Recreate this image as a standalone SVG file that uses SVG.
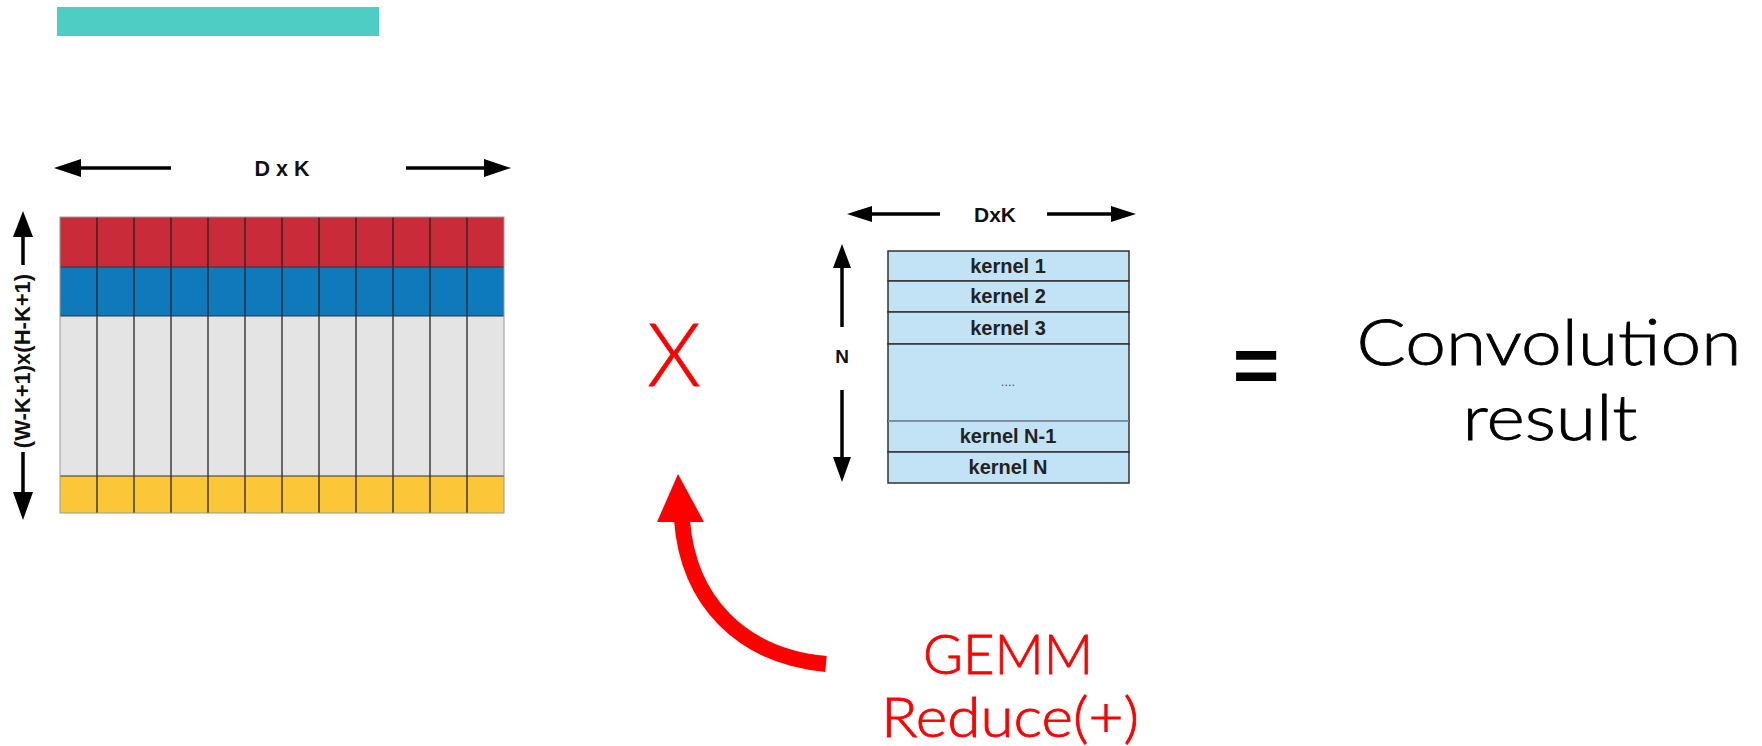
<svg xmlns="http://www.w3.org/2000/svg" width="1762" height="746" viewBox="0 0 1762 746">
  <defs>
    <style>
      .lbl { font-family: "Liberation Sans", Arial, sans-serif; font-weight: bold; fill: #111; }
      .big { font-family: "Lato", "Noto Sans", sans-serif; font-weight: 300; stroke-width: 0.8; }
      .col { stroke: #222; stroke-width: 1.5; stroke-opacity: 0.85; }
      .arr { stroke: #000; stroke-width: 3.5; fill: none; }
      .head { fill: #000; }
      .krow { fill: #c2e3f5; stroke: #333; stroke-width: 1.5; }
      .ktxt { font-family: "Liberation Sans", Arial, sans-serif; font-weight: bold; font-size: 20px; fill: #222; text-anchor: middle; }
    </style>
  </defs>
  <rect width="1762" height="746" fill="#ffffff"/>

  <g id="title-bar">
    <rect x="57" y="7" width="322" height="29" fill="#4ecdc4"/>
  </g>

  <g id="input-matrix">
    <rect x="60" y="217" width="444" height="50" fill="#c92b38"/>
    <rect x="60" y="267" width="444" height="49" fill="#0e7abb"/>
    <rect x="60" y="316" width="444" height="160" fill="#e4e4e4"/>
    <rect x="60" y="476" width="444" height="37" fill="#fbc638"/>
    <g class="col">
      <line x1="97" y1="217" x2="97" y2="513"/>
      <line x1="134" y1="217" x2="134" y2="513"/>
      <line x1="171" y1="217" x2="171" y2="513"/>
      <line x1="208" y1="217" x2="208" y2="513"/>
      <line x1="245" y1="217" x2="245" y2="513"/>
      <line x1="282" y1="217" x2="282" y2="513"/>
      <line x1="319" y1="217" x2="319" y2="513"/>
      <line x1="356" y1="217" x2="356" y2="513"/>
      <line x1="393" y1="217" x2="393" y2="513"/>
      <line x1="430" y1="217" x2="430" y2="513"/>
      <line x1="467" y1="217" x2="467" y2="513"/>
    </g>
    <line x1="60" y1="267" x2="504" y2="267" stroke="#333" stroke-width="1"/>
    <line x1="60" y1="316" x2="504" y2="316" stroke="#333" stroke-width="1"/>
    <line x1="60" y1="476" x2="504" y2="476" stroke="#333" stroke-width="1.2"/>
    <rect x="60" y="217" width="444" height="296" fill="none" stroke="#999" stroke-width="1"/>
  </g>

  <g id="input-dims">
    <line class="arr" x1="76" y1="168" x2="171" y2="168"/>
    <polygon class="head" points="54,168 81,159 81,177"/>
    <line class="arr" x1="406" y1="168" x2="488" y2="168"/>
    <polygon class="head" points="511,168 484,159 484,177"/>
    <text class="lbl" x="282" y="176" font-size="21.5" text-anchor="middle">D x K</text>

    <line class="arr" x1="23" y1="234" x2="23" y2="265"/>
    <polygon class="head" points="23,211 13,237 33,237"/>
    <line class="arr" x1="23" y1="452" x2="23" y2="495"/>
    <polygon class="head" points="23,520 13,492 33,492"/>
    <text class="lbl" x="0" y="0" font-size="22" text-anchor="middle" transform="translate(30,361) rotate(-90)">(W-K+1)x(H-K+1)</text>
  </g>

  <g id="times-sign">
    <text class="big" x="674" y="386" font-size="86" fill="#ff0000" stroke="#ff0000" text-anchor="middle">X</text>
  </g>

  <g id="kernel-matrix">
    <rect class="krow" x="888" y="251" width="241" height="30"/>
    <rect class="krow" x="888" y="281" width="241" height="31"/>
    <rect class="krow" x="888" y="312" width="241" height="32"/>
    <rect x="888" y="344" width="241" height="77" fill="#c2e3f5" stroke="#333" stroke-width="1.5"/>
    <rect class="krow" x="888" y="421" width="241" height="31"/>
    <rect class="krow" x="888" y="452" width="241" height="31"/>
    <line x1="888" y1="421" x2="1129" y2="421" stroke="#8fa9b8" stroke-width="1.5"/>
    <text class="ktxt" x="1008" y="273">kernel 1</text>
    <text class="ktxt" x="1008" y="303">kernel 2</text>
    <text class="ktxt" x="1008" y="335">kernel 3</text>
    <text x="1008" y="386" font-family="Liberation Sans, Arial, sans-serif" font-size="13" fill="#555" text-anchor="middle">....</text>
    <text class="ktxt" x="1008" y="443">kernel N-1</text>
    <text class="ktxt" x="1008" y="474">kernel N</text>
  </g>

  <g id="kernel-dims">
    <line class="arr" x1="868" y1="214" x2="940" y2="214"/>
    <polygon class="head" points="847,214 872,206 872,222"/>
    <line class="arr" x1="1047" y1="214" x2="1114" y2="214"/>
    <polygon class="head" points="1136,214 1111,206 1111,222"/>
    <text class="lbl" x="995" y="222" font-size="21" text-anchor="middle">DxK</text>

    <line class="arr" x1="842" y1="265" x2="842" y2="327"/>
    <polygon class="head" points="842,244 833,268 851,268"/>
    <line class="arr" x1="842" y1="390" x2="842" y2="460"/>
    <polygon class="head" points="842,482 833,457 851,457"/>
    <text class="lbl" x="842" y="363" font-size="19" text-anchor="middle">N</text>
  </g>

  <g id="equals-sign">
    <text x="1256" y="392" font-family="Liberation Sans, Arial, sans-serif" font-weight="bold" font-size="80" fill="#000" text-anchor="middle">=</text>
  </g>

  <g id="result">
    <text class="big" x="1549" y="365" font-size="64" fill="#000" stroke="#000" text-anchor="middle" textLength="385" lengthAdjust="spacingAndGlyphs">Convolution</text>
    <text class="big" x="1550" y="440" font-size="64" fill="#000" stroke="#000" text-anchor="middle" textLength="175" lengthAdjust="spacingAndGlyphs">result</text>
  </g>

  <g id="gemm-label">
    <text class="big" x="1008" y="674" font-size="55" fill="#ff0000" stroke="#ff0000" text-anchor="middle" textLength="170" lengthAdjust="spacingAndGlyphs">GEMM</text>
    <text class="big" x="1010" y="737" font-size="55" fill="#ff0000" stroke="#ff0000" text-anchor="middle" textLength="258" lengthAdjust="spacingAndGlyphs">Reduce(+)</text>
  </g>

  <g id="connectors">
    <path d="M 682 520 C 688 600, 740 656, 826 664" fill="none" stroke="#ff0000" stroke-width="16"/>
    <polygon points="678,474 657,522 704,522" fill="#ff0000"/>
  </g>
</svg>
